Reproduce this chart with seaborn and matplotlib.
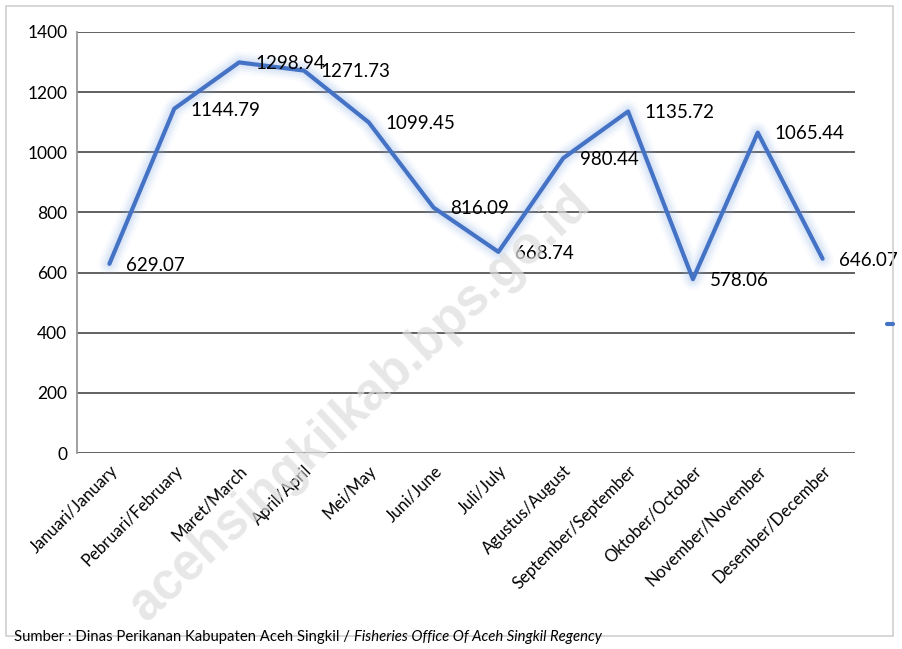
import matplotlib
matplotlib.use("Agg")
import matplotlib.pyplot as plt
import seaborn as sns
import pandas as pd
from matplotlib.lines import Line2D
from matplotlib.patches import Rectangle

months = ['Januari/January', 'Pebruari/February', 'Maret/March', 'April/April',
          'Mei/May', 'Juni/June', 'Juli/July', 'Agustus/August',
          'September/September', 'Oktober/October', 'November/November',
          'Desember/December']
values = [629.07, 1144.79, 1298.94, 1271.73, 1099.45, 816.09, 668.74,
          980.44, 1135.72, 578.06, 1065.44, 646.07]
yticks = [0, 200, 400, 600, 800, 1000, 1200, 1400]

df = pd.DataFrame({'month': months, 'value': values, 'pos': range(len(months))})

sns.set_style("white")
plt.rcParams['font.family'] = ['Lato', 'DejaVu Sans']
plt.rcParams['text.color'] = 'black'
plt.rcParams['xtick.color'] = 'black'
plt.rcParams['ytick.color'] = 'black'

fig = plt.figure(figsize=(9.03, 6.49), dpi=100)
ax = fig.add_axes([77/903, 1-453/649, (855-77)/903, (453-32)/649])

blue = '#4472C4'
# soft glow under the line
for lw, a in [(16, 0.06), (12, 0.08), (9, 0.10), (6, 0.12)]:
    sns.lineplot(data=df, x='pos', y='value', ax=ax, color='#8FB0EA',
                 lw=lw, alpha=a, solid_capstyle='round', solid_joinstyle='round')
sns.lineplot(data=df, x='pos', y='value', ax=ax, color=blue, lw=3,
             solid_joinstyle='round')

for i, v in enumerate(values):
    ax.annotate(f"{v:.2f}", (i, v), xytext=(12, -1), textcoords='offset points',
                ha='left', va='center', fontsize=13.5, color='black')

ax.set_xlim(-0.5, len(months) - 0.5)
ax.set_ylim(0, 1400)
ax.set_yticks(yticks)
ax.set_yticklabels([str(t) for t in yticks], fontsize=12.5)
ax.set_xticks(range(len(months)))
ax.set_xticklabels(months, rotation=45, ha='right', rotation_mode='anchor', fontsize=12)
ax.tick_params(length=0, pad=7)
ax.set_xlabel('')
ax.set_ylabel('')
ax.grid(axis='y', color='#555555', lw=1.3)
ax.set_axisbelow(True)
for s in ['top', 'right', 'bottom']:
    ax.spines[s].set_visible(False)
ax.spines['left'].set_color('#999999')
ax.spines['left'].set_linewidth(1.3)

# watermark
fig.text(360/903, 1-405/649, 'acehsingkilkab.bps.go.id', rotation=43, fontsize=37,
         fontweight='bold', color='#dddddd', alpha=0.7, ha='center', va='center',
         family=['Liberation Sans', 'DejaVu Sans'], zorder=0)

# legend marker at right
fig.legend(handles=[Line2D([], [], color=blue, lw=3)], labels=[''],
           loc='center', bbox_to_anchor=(890/903, 1-325/649), frameon=False,
           handlelength=0.5, handletextpad=0)

# border
fig.patches.append(Rectangle((6/903, 1-636/649), 887/903, 630/649,
                             transform=fig.transFigure, fill=False,
                             edgecolor='#d0d0d0', lw=1.2))

t1 = fig.text(14/903, 1-637/649, 'Sumber : Dinas Perikanan Kabupaten Aceh Singkil / ',
              fontsize=10.7, ha='left', va='center')
fig.canvas.draw()
bb = t1.get_window_extent()
fig.text(bb.x1 / fig.bbox.width, 1-637/649, 'Fisheries Office Of Aceh Singkil Regency',
         fontsize=10.7, style='italic', ha='left', va='center')

fig.savefig('out.png', dpi=100)
